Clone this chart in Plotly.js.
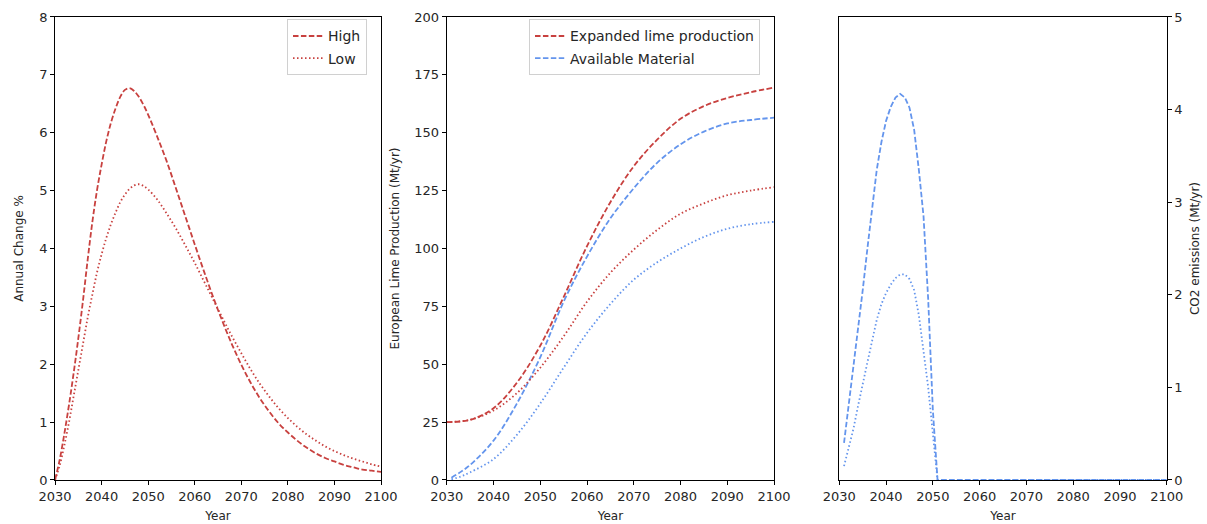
<!DOCTYPE html>
<html>
<head>
<meta charset="utf-8">
<script src="https://cdn.plot.ly/plotly-3.0.1.min.js"></script>
<style>html,body{margin:0;padding:0;background:#fff;}</style>
</head>
<body>
<div id="chart" style="width:1207px;height:524px;"></div>
<script>
// Panel 1: Annual change %
const yearsA = [2030,2031,2032,2033,2034,2035,2036,2037,2038,2039,2040,2041,2042,2043,2044,2045,2046,2047,2048,2049,2050,2052,2054,2056,2058,2060,2062,2064,2066,2068,2070,2072,2074,2076,2078,2080,2082,2084,2086,2088,2090,2092,2094,2096,2098,2100];
const changeHigh = [0,0.35,0.8,1.3,1.85,2.45,3.1,3.8,4.45,5.0,5.45,5.85,6.17,6.42,6.62,6.74,6.77,6.72,6.62,6.48,6.31,5.92,5.5,5.03,4.55,4.07,3.6,3.15,2.73,2.34,1.99,1.68,1.41,1.18,0.98,0.82,0.68,0.56,0.46,0.38,0.32,0.26,0.22,0.18,0.16,0.14];
const changeLow  = [0,0.25,0.6,1.0,1.45,1.9,2.35,2.8,3.2,3.58,3.9,4.18,4.42,4.62,4.8,4.93,5.03,5.09,5.11,5.08,5.02,4.84,4.6,4.34,4.05,3.75,3.43,3.11,2.79,2.48,2.19,1.91,1.66,1.44,1.24,1.07,0.92,0.79,0.68,0.58,0.5,0.43,0.37,0.32,0.27,0.23];

// Panel 2: European lime production (Mt/yr)
const yearsB = [2030,2035,2040,2045,2050,2055,2060,2065,2070,2075,2080,2085,2090,2095,2100];
const expandedHigh = [25,26,31,42,58,79,101,120,135.5,147,156,161.5,165,167.5,169.5];
const expandedLow  = [25,26,30,37.5,48.5,62,77,89.5,99.5,108,115,119.5,123,125,126.5];
const yearsC = [2031,2033,2035,2040,2045,2050,2055,2060,2065,2070,2075,2080,2085,2090,2095,2100];
const availableHigh = [1,3.5,6.5,17,33,53,77,96.5,113,126,137,145,150.5,154,155.5,156.5];
const availableLow  = [0.3,1.5,3.3,9,19.5,33,48.5,63.5,76,86.5,94,100,105,108.5,110.5,111.5];

// Panel 3: CO2 emissions (Mt/yr)
const yearsD = [2031,2032,2033,2034,2035,2036,2037,2038,2039,2040,2041,2042,2043,2044,2045,2046,2047,2048,2049,2050,2051,2060,2070,2080,2090,2100];
const co2High = [0.4,0.8,1.2,1.6,2.05,2.5,2.95,3.35,3.65,3.88,4.03,4.13,4.17,4.13,4.02,3.78,3.35,2.85,1.95,0.75,0,0,0,0,0,0];
const co2Low  = [0.15,0.35,0.55,0.8,1.05,1.27,1.5,1.73,1.9,2.02,2.11,2.18,2.22,2.22,2.17,2.05,1.78,1.4,1.0,0.5,0,0,0,0,0,0];

const RED = '#c8413f';
const BLUE = '#6495ed';
const DASH = '5.5px,2.4px';
const DOT = '1.5px,2.5px';
const LW = 1.8;

const traces = [
  {x: yearsA, y: changeHigh, xaxis:'x', yaxis:'y', mode:'lines', name:'High', legend:'legend', legendgroup:'a',
   line:{color:RED, width:LW, dash:DASH, shape:'spline'}},
  {x: yearsA, y: changeLow, xaxis:'x', yaxis:'y', mode:'lines', name:'Low', legend:'legend', legendgroup:'b',
   line:{color:RED, width:LW, dash:DOT, shape:'spline'}},

  {x: yearsB, y: expandedHigh, xaxis:'x2', yaxis:'y2', mode:'lines', name:'Expanded lime production', legend:'legend2', legendgroup:'c',
   line:{color:RED, width:LW, dash:DASH, shape:'spline'}},
  {x: yearsC, y: availableHigh, xaxis:'x2', yaxis:'y2', mode:'lines', name:'Available Material', legend:'legend2', legendgroup:'d',
   line:{color:BLUE, width:LW, dash:DASH, shape:'spline'}},
  {x: yearsB, y: expandedLow, xaxis:'x2', yaxis:'y2', mode:'lines', showlegend:false,
   line:{color:RED, width:LW, dash:DOT, shape:'spline'}},
  {x: yearsC, y: availableLow, xaxis:'x2', yaxis:'y2', mode:'lines', showlegend:false,
   line:{color:BLUE, width:LW, dash:DOT, shape:'spline'}},

  {x: yearsD, y: co2High, xaxis:'x3', yaxis:'y3', mode:'lines', showlegend:false,
   line:{color:BLUE, width:LW, dash:DASH}},
  {x: yearsD, y: co2Low, xaxis:'x3', yaxis:'y3', mode:'lines', showlegend:false,
   line:{color:BLUE, width:LW, dash:DOT}}
];

const tickFont = {family:'DejaVu Sans, sans-serif', size:13, color:'#262626'};
const titleFont = {family:'DejaVu Sans, sans-serif', size:12, color:'#262626'};
const legendFont = {family:'DejaVu Sans, sans-serif', size:14, color:'#262626'};

function xax(domain, anchor){
  return {domain:domain, anchor:anchor, range:[2030,2100], tickvals:[2030,2040,2050,2060,2070,2080,2090,2100],
    showline:true, linecolor:'#000', linewidth:1, mirror:true, ticks:'outside', ticklen:4, tickcolor:'#000',
    showgrid:false, zeroline:false, tickfont:tickFont, automargin:false,
    title:{text:'Year', font:titleFont, standoff:9}};
}
function yax(anchor, range, dtick, title, side, standoff){
  return {domain:[0.084,0.9676], anchor:anchor, range:range, dtick:dtick, tick0:0, side:side||'left',
    showline:true, linecolor:'#000', linewidth:1, mirror:true, ticks:'outside', ticklen:4, tickcolor:'#000',
    showgrid:false, zeroline:false, tickfont:tickFont, automargin:false,
    title:{text:title, font:titleFont, standoff:standoff}};
}

const legendBase = {y:0.963, xanchor:'left', yanchor:'top', bgcolor:'rgba(255,255,255,0.8)',
    bordercolor:'#d0d0d0', borderwidth:1, font:legendFont, tracegroupgap:1, itemwidth:30};

const layout = {
  width:1207, height:524,
  margin:{l:0, r:0, t:0, b:0},
  paper_bgcolor:'#fff', plot_bgcolor:'#fff',
  font:titleFont,
  xaxis: xax([0.0456,0.3157],'y'),
  xaxis2: xax([0.3701,0.6413],'y2'),
  xaxis3: xax([0.6954,0.9666],'y3'),
  yaxis: yax('x',[0,8],1,'Annual Change %','left',12),
  yaxis2: yax('x2',[0,200],25,'European Lime Production (Mt/yr)','left',12),
  yaxis3: yax('x3',[0,5],1,'CO2 emissions (Mt/yr)','right',9),
  legend: Object.assign({x:0.2378}, legendBase),
  legend2: Object.assign({x:0.4383}, legendBase),
  showlegend:true
};

Plotly.newPlot('chart', traces, layout, {displayModeBar:false, staticPlot:true});
</script>
</body>
</html>
